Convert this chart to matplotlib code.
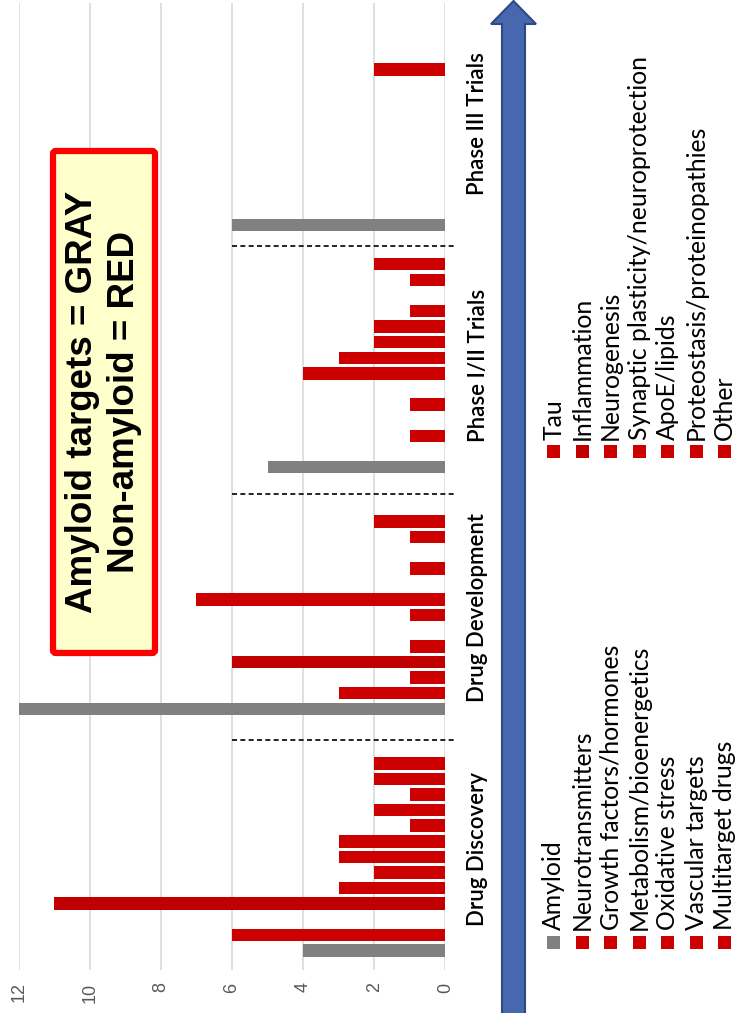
import matplotlib
matplotlib.use('Agg')
import matplotlib.pyplot as plt
from matplotlib.patches import Rectangle, FancyBboxPatch, Polygon
from matplotlib.transforms import Affine2D

# ---------------- data ----------------
categories = ["Drug Discovery", "Drug Development", "Phase I/II Trials", "Phase III Trials"]
series_names = ["Amyloid", "Tau", "Neurotransmitters", "Inflammation",
                "Growth factors/hormones", "Neurogenesis", "Metabolism/bioenergetics",
                "Synaptic plasticity/neuroprotection", "Oxidative stress", "ApoE/lipids",
                "Vascular targets", "Proteostasis/proteinopathies", "Multitarget drugs", "Other"]
amyloid = [4, 12, 5, 6]
tau = [6, 3, 0, 0]
neurotransmitters = [0, 1, 1, 0]
inflammation = [11, 6, 0, 0]
growth_factors = [3, 1, 1, 0]
neurogenesis = [2, 0, 0, 0]
metabolism = [3, 1, 4, 0]
synaptic = [3, 7, 3, 0]
oxidative = [1, 0, 2, 0]
apoe = [2, 1, 2, 0]
vascular = [1, 0, 1, 2]
proteostasis = [2, 1, 0, 0]
multitarget = [2, 2, 1, 0]
other = [0, 0, 2, 0]
series_values = [amyloid, tau, neurotransmitters, inflammation, growth_factors, neurogenesis,
                 metabolism, synaptic, oxidative, apoe, vascular, proteostasis, multitarget, other]
x_ticks = [0, 2, 4, 6, 8, 10, 12]
separators = [13.5, 29.25, 45.2]   # dashed stage separators (slot units)

GRAY = '#808080'
RED = '#CC0000'
DARKRED = '#C00000'
colors = [GRAY] + [RED] * 13
colors[3] = DARKRED

W, H = 737, 1013
fig = plt.figure(figsize=(W / 100, H / 100), dpi=100)
pix = Affine2D().scale(1 / W, -1 / H).translate(0, 1) + fig.transFigure

# ---------------- axes ----------------
ax_l, ax_r, ax_t, ax_b = 18.7, 445.3, 3, 970
ax = fig.add_axes([ax_l / W, 1 - ax_b / H, (ax_r - ax_l) / W, (ax_b - ax_t) / H])
n_series = len(series_names)
cat_step = n_series + 1.5
for j, vals in enumerate(series_values):
    ys = [i * cat_step + j for i in range(len(categories))]
    ax.barh(ys, vals, height=0.8, color=colors[j], zorder=3)

ax.set_xlim(12, 0)
ax.set_ylim(-1.25, len(categories) * cat_step - 1.25)
ax.set_xticks(x_ticks)
ax.set_xticklabels([str(t) for t in x_ticks], rotation=90, color='#595959',
                   fontsize=13, family='Liberation Sans')
ax.tick_params(axis='x', length=0, pad=9)
ax.set_yticks([])
ax.grid(axis='x', color='#D9D9D9', lw=1.2, zorder=0)
for s in ax.spines.values():
    s.set_visible(False)

for s in separators:
    ax.plot([6, -0.25], [s, s], color='black', lw=1.2, ls=(0, (3, 2)),
            clip_on=False, zorder=4)

# category labels
for i, c in enumerate(categories):
    yc = i * cat_step + (n_series - 1) / 2
    ax.annotate(c, xy=(1, yc), xycoords=('axes fraction', 'data'),
                xytext=(478 - ax_r, 0), textcoords='offset pixels',
                rotation=90, ha='center', va='center', fontsize=16,
                family='Lato', fontweight=600, color='black', annotation_clip=False)

# ---------------- arrow ----------------
arrow_pts = [(502, H + 5), (502, 24), (491, 24), (513.5, 1), (536, 24), (525, 24), (525, H + 5)]
fig.patches.append(Polygon(arrow_pts, closed=True, transform=pix, facecolor='#4767AE',
                           edgecolor='#2E4A85', lw=1.5))

# ---------------- legend ----------------
row_x0, row_dx = 553.7, 28.5
col_marker_y = [943, 452]
msz = 13
for k, name in enumerate(series_names):
    col, row = k % 2, k // 2
    xc = row_x0 + row * row_dx
    yc = col_marker_y[col]
    fig.patches.append(Rectangle((xc - msz / 2, yc - msz / 2), msz, msz, transform=pix,
                                 facecolor=colors[k], edgecolor='none'))
    fig.text(xc, yc - msz / 2 - 6, name, transform=pix, rotation=90, rotation_mode='anchor',
             ha='left', va='center', fontsize=17.8, family='Lato', color='black')

# ---------------- annotation box ----------------
fig.patches.append(FancyBboxPatch((53, 151), 102, 502, boxstyle='round,pad=0,rounding_size=3',
                                  transform=pix, facecolor='#FFFFCC', edgecolor='#FF0000', lw=4.5))
for x, line in [(83, 'Amyloid targets = GRAY'), (125, 'Non-amyloid = RED')]:
    fig.text(x, 402, line, transform=pix, rotation=90, ha='center', va='center',
             fontsize=26.5, fontweight='bold', family='Liberation Sans', color='black')

fig.savefig('out.png', dpi=100)
